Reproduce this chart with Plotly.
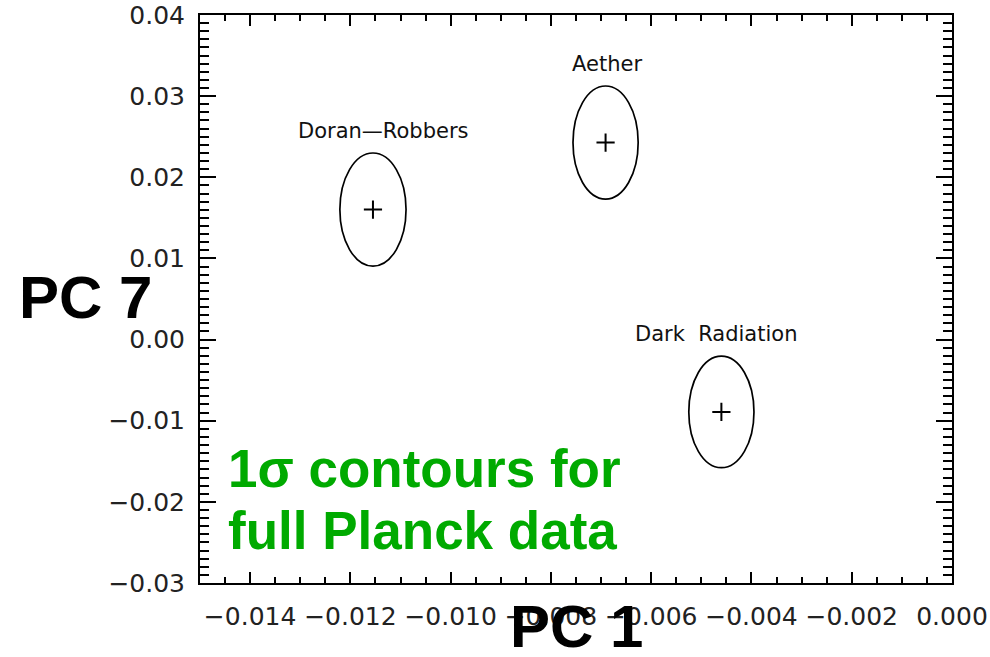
import plotly.graph_objects as go

# Principal-component projections (PC 1, PC 7) of three models, with 1-sigma errors
models = ["Doran\u2014Robbers", "Aether", "Dark  Radiation"]
pc1_center = [-0.01155, -0.00691, -0.00460]
pc7_center = [0.01602, 0.02428, -0.00892]
pc1_sigma = [0.00066, 0.00065, 0.00065]
pc7_sigma = [0.00697, 0.00697, 0.00687]

# axis tick values
x_ticks = [-0.014, -0.012, -0.010, -0.008, -0.006, -0.004, -0.002, 0.000]
y_ticks = [-0.03, -0.02, -0.01, 0.00, 0.01, 0.02, 0.03, 0.04]

W, H = 990, 657
L, R, T, B = 200, 38, 15, 74

fig = go.Figure()

# 1-sigma contours
for cx, cy, sx, sy in zip(pc1_center, pc7_center, pc1_sigma, pc7_sigma):
    fig.add_shape(type="circle", xref="x", yref="y",
                  x0=cx - sx, x1=cx + sx, y0=cy - sy, y1=cy + sy,
                  line=dict(color="black", width=1.7))

# best-fit points
fig.add_trace(go.Scatter(
    x=pc1_center, y=pc7_center, mode="markers",
    marker=dict(symbol="cross-thin", size=13, color="black",
                line=dict(color="black", width=2)),
    showlegend=False, hoverinfo="skip"))

# model names above each contour
label_dx = [10, 1, -5]
for name, cx, cy, sy, dx in zip(models, pc1_center, pc7_center, pc7_sigma, label_dx):
    fig.add_annotation(x=cx, y=cy + sy, text=name, showarrow=False,
                       xshift=dx, yshift=22, yanchor="middle",
                       font=dict(family="DejaVu Sans", size=21, color="#111"))

pw = W - L - R
ph = H - T - B


def px(x):
    return (x - L) / pw


def py(y):
    return (H - B - y) / ph


# axis titles
fig.add_annotation(xref="paper", yref="paper", x=px(85), y=py(297),
                   text="<b>PC 7</b>", showarrow=False,
                   xanchor="center", yanchor="middle",
                   font=dict(family="Liberation Sans", size=60, color="black"))
fig.add_annotation(xref="paper", yref="paper", x=px(576), y=py(627),
                   text="<b>PC 1</b>", showarrow=False,
                   xanchor="center", yanchor="middle",
                   font=dict(family="Liberation Sans", size=60, color="black"))

# caption
green = "#00AA00"
fig.add_annotation(xref="paper", yref="paper", x=px(226), y=py(468),
                   text="<b>1\u03c3 contours for</b>", showarrow=False,
                   xanchor="left", yanchor="middle",
                   font=dict(family="Liberation Sans", size=53, color=green))
fig.add_annotation(xref="paper", yref="paper", x=px(226), y=py(530),
                   text="<b>full Planck data</b>", showarrow=False,
                   xanchor="left", yanchor="middle",
                   font=dict(family="Liberation Sans", size=53, color=green))

tick_font = dict(family="DejaVu Sans", size=25, color="#222")

fig.update_xaxes(
    range=[-0.015, 0.0], tickvals=x_ticks, tickformat=".3f",
    ticks="inside", ticklen=11, tickwidth=1.8, tickcolor="black",
    minor=dict(dtick=0.0005, tick0=0, ticks="inside", ticklen=6,
               tickwidth=1.6, tickcolor="black", showgrid=False),
    showline=True, linewidth=2, linecolor="black", mirror="ticks",
    showgrid=False, zeroline=False, tickfont=tick_font,
    ticklabelstandoff=10)
fig.update_yaxes(
    range=[-0.03, 0.04], tickvals=y_ticks, tickformat=".2f",
    ticks="inside", ticklen=16, tickwidth=1.8, tickcolor="black",
    minor=dict(dtick=0.001, tick0=0, ticks="inside", ticklen=9,
               tickwidth=1.6, tickcolor="black", showgrid=False),
    showline=True, linewidth=2, linecolor="black", mirror="ticks",
    showgrid=False, zeroline=False, tickfont=tick_font,
    ticklabelstandoff=8)

fig.update_layout(
    width=W, height=H,
    margin=dict(l=L, r=R, t=T, b=B, autoexpand=False),
    paper_bgcolor="white", plot_bgcolor="white",
    showlegend=False)

fig.write_html("out.html")
